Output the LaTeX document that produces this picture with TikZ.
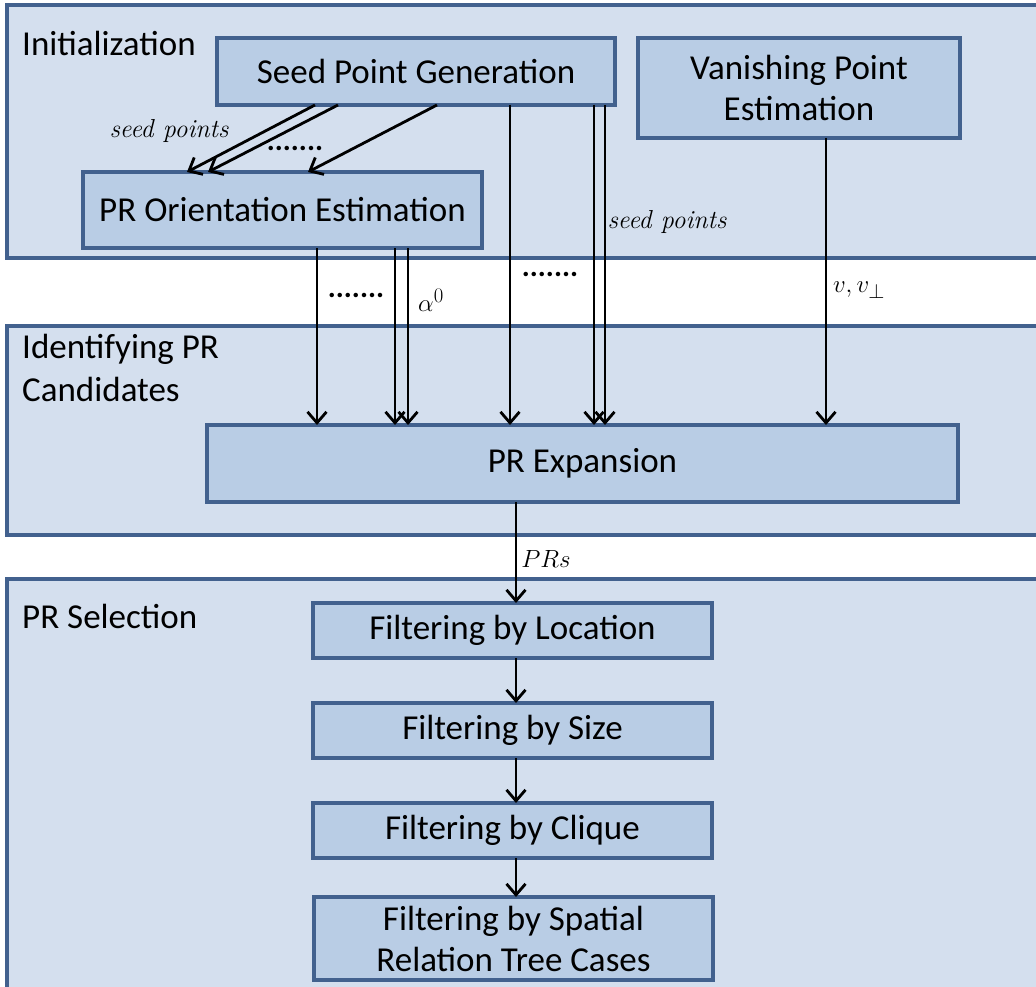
\documentclass[tikz,border=0pt]{standalone}
\usepackage{fontspec}
\setsansfont{Carlito}
\usetikzlibrary{arrows.meta}
\definecolor{panelfill}{RGB}{212,223,238}
\definecolor{boxfill}{RGB}{185,205,229}
\definecolor{edge}{RGB}{66,97,142}
\tikzset{
  panel/.style={draw=edge, fill=panelfill, line width=4pt},
  stepbox/.style={draw=edge, fill=boxfill, line width=4pt, inner sep=0pt, outer sep=0pt,
    align=center, font=\sffamily\fontsize{35}{41}\selectfont},
  title/.style={anchor=base west, inner sep=0pt, font=\sffamily\fontsize{35}{43}\selectfont, align=left},
  lab/.style={inner sep=0pt, font=\fontsize{26}{30}\selectfont\itshape},
  mlab/.style={inner sep=0pt, font=\fontsize{28}{32}\selectfont},
  dots/.style={inner sep=0pt, font=\sffamily\bfseries\fontsize{30}{30}\selectfont},
  arr/.style={line width=2.8pt, -{Straight Barb[length=11pt,width=19pt,line width=2.8pt]}},
}
\begin{document}
\begin{tikzpicture}[x=1pt,y=-1pt]
\useasboundingbox (0,0) rectangle (1036,987);
\clip (0,0) rectangle (1036,987);

% stage panels
\draw[panel] (7,5) rectangle (1060,258);
\draw[panel] (7,326) rectangle (1060,535);
\draw[panel] (7,579) rectangle (1060,1010);

\node[title] (tInit) at (22,56) {Initialization};
\node[title, anchor=north west] (tIdent) at (22,334) {Identifying PR\\Candidates};
\node[title] (tSel) at (22,628) {PR Selection};

% process boxes
\node[stepbox, minimum width=398, minimum height=67] (seed) at (416,71.5) {Seed Point Generation};
\node[stepbox, minimum width=322, minimum height=100] (van) at (799,88) {Vanishing Point\\Estimation};
\node[stepbox, minimum width=399, minimum height=76] (ori) at (282.5,210) {PR Orientation Estimation};
\node[stepbox, minimum width=751, minimum height=77] (exp) at (582.5,463.5) {PR Expansion};
\node[stepbox, minimum width=399, minimum height=55] (loc) at (512.5,630.5) {Filtering by Location};
\node[stepbox, minimum width=399, minimum height=55] (size) at (512.5,730.5) {Filtering by Size};
\node[stepbox, minimum width=399, minimum height=55] (cliq) at (512.5,830.5) {Filtering by Clique};
\node[stepbox, minimum width=399, minimum height=83] (spat) at (513.5,938.5) {Filtering by Spatial\\Relation Tree Cases};

% seed points to orientation estimation
\draw[arr] ([xshift=-101]seed.south) -- ([xshift=-95.5]ori.north);
\draw[arr] ([xshift=-78]seed.south) -- ([xshift=-74.5]ori.north);
\draw[arr] ([xshift=21]seed.south) -- ([xshift=25.5]ori.north);

% orientations to expansion
\draw[arr] ([xshift=34.5]ori.south) -- ([xshift=-265.5]exp.north);
\draw[arr] ([xshift=112.5]ori.south) -- ([xshift=-187.5]exp.north);
\draw[arr] ([xshift=125.5]ori.south) -- ([xshift=-174.5]exp.north);

% seed points to expansion
\draw[arr] ([xshift=94]seed.south) -- ([xshift=-72.5]exp.north);
\draw[arr] ([xshift=178]seed.south) -- ([xshift=11.5]exp.north);
\draw[arr] ([xshift=189]seed.south) -- ([xshift=22.5]exp.north);

% vanishing point to expansion
\draw[arr] ([xshift=27]van.south) -- ([xshift=243.5]exp.north);

% selection chain
\draw[arr] ([xshift=-66.5]exp.south) -- ([xshift=3.5]loc.north);
\draw[arr] ([xshift=3.5]loc.south) -- ([xshift=3.5]size.north);
\draw[arr] ([xshift=3.5]size.south) -- ([xshift=3.5]cliq.north);
\draw[arr] ([xshift=3.5]cliq.south) -- ([xshift=2.5]spat.north);

% connector labels
\node[lab] (ls1) at (169,131) {seed points};
\node[lab] (ls2) at (667,222) {seed points};
\node[dots] (d1) at (295,148) {.......};
\node[dots] (d2) at (356,295) {.......};
\node[dots] (d3) at (550,274) {.......};
\node[mlab] (la) at (431,300) {$\alpha^0$};
\node[mlab] (lv) at (859,290) {$v,v_\perp$};
\node[mlab] (lp) at (546,559) {$PRs$};
\end{tikzpicture}
\end{document}
